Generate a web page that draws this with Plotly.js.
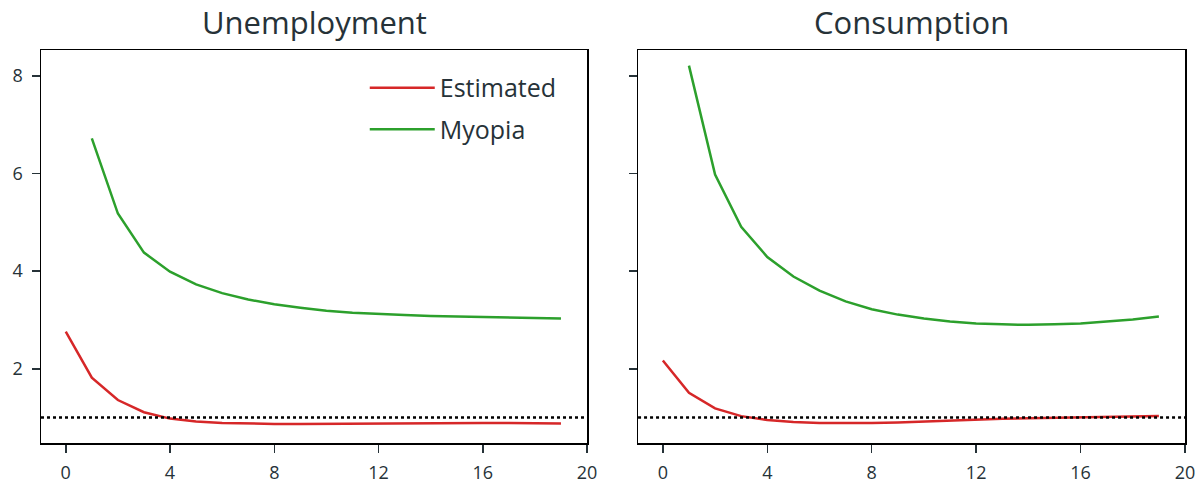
<!DOCTYPE html>
<html>
<head>
<meta charset="utf-8">
<script src="https://cdn.plot.ly/plotly-3.0.1.min.js"></script>
<style>html,body{margin:0;padding:0;background:#fff;}#chart{width:1202px;height:485px;}</style>
</head>
<body>
<div id="chart"></div>
<script>
// ---- data ----
const panelTitles = ["Unemployment", "Consumption"];
const seriesNames = ["Estimated", "Myopia"];
const horizonsEstimated = [0,1,2,3,4,5,6,7,8,9,10,11,12,13,14,15,16,17,18,19];
const horizonsMyopia = [1,2,3,4,5,6,7,8,9,10,11,12,13,14,15,16,17,18,19];
const unempEstimated = [2.76,1.82,1.36,1.11,0.98,0.92,0.89,0.875,0.87,0.87,0.875,0.88,0.885,0.89,0.89,0.89,0.89,0.89,0.885,0.88];
const unempMyopia = [6.72,5.18,4.38,3.99,3.73,3.55,3.42,3.32,3.25,3.19,3.15,3.12,3.10,3.08,3.07,3.06,3.05,3.04,3.03];
const consEstimated = [2.17,1.51,1.19,1.03,0.95,0.91,0.89,0.885,0.89,0.90,0.92,0.94,0.96,0.975,0.985,0.995,1.005,1.015,1.025,1.035];
const consMyopia = [8.21,5.98,4.91,4.29,3.89,3.60,3.38,3.22,3.11,3.03,2.97,2.93,2.91,2.90,2.91,2.93,2.97,3.01,3.07];
const referenceLevel = 1;
const xTicks = [0,4,8,12,16,20];
const yTicks = [2,4,6,8];

// ---- style ----
const RED = "#d62728", GREEN = "#2ca02c", TXT = "#263238";
const FONT = "'Open Sans', 'Noto Sans', sans-serif";

const traces = [
  {x: horizonsEstimated, y: unempEstimated, name: seriesNames[0], xaxis: "x", yaxis: "y", mode: "lines",
   line: {color: RED, width: 2.5}, legendgroup: "a"},
  {x: horizonsMyopia, y: unempMyopia, name: seriesNames[1], xaxis: "x", yaxis: "y", mode: "lines",
   line: {color: GREEN, width: 2.5}, legendgroup: "b"},
  {x: horizonsEstimated, y: consEstimated, name: seriesNames[0], xaxis: "x2", yaxis: "y2", mode: "lines",
   line: {color: RED, width: 2.5}, showlegend: false},
  {x: horizonsMyopia, y: consMyopia, name: seriesNames[1], xaxis: "x2", yaxis: "y2", mode: "lines",
   line: {color: GREEN, width: 2.5}, showlegend: false}
];

const axisCommon = {
  showline: true, mirror: true, linecolor: "#000", linewidth: 1.5,
  ticks: "outside", ticklen: 8, tickwidth: 1.5, tickcolor: TXT,
  ticklabelstandoff: 5,
  showgrid: false, zeroline: false,
  tickfont: {family: FONT, size: 18, color: TXT}
};
const xr = [-0.95, 20];
const yr = [0.48, 8.53];

const layout = {
  width: 1202, height: 485,
  margin: {l: 41, r: 17, t: 50, b: 42},
  paper_bgcolor: "#fff", plot_bgcolor: "#fff",
  font: {family: FONT, color: TXT},
  showlegend: true,
  legend: {x: 0.283, y: 0.962, xanchor: "left", yanchor: "top", bgcolor: "rgba(0,0,0,0)",
           itemwidth: 65,
           font: {family: FONT, size: 25, color: TXT}, tracegroupgap: 6, traceorder: "grouped"},
  xaxis: Object.assign({}, axisCommon, {domain: [0, 0.4773], range: xr, tickvals: xTicks, anchor: "y"}),
  yaxis: Object.assign({}, axisCommon, {domain: [0, 1], range: yr, tickvals: yTicks, anchor: "x"}),
  xaxis2: Object.assign({}, axisCommon, {domain: [0.5219, 1], range: xr, tickvals: xTicks, anchor: "y2"}),
  yaxis2: Object.assign({}, axisCommon, {domain: [0, 1], range: yr, tickvals: yTicks, anchor: "x2", showticklabels: false}),
  shapes: [
    {type: "line", xref: "x domain", yref: "y", x0: 0, x1: 1, y0: referenceLevel, y1: referenceLevel,
     line: {color: "#000", width: 2.5, dash: "dot"}},
    {type: "line", xref: "x2 domain", yref: "y2", x0: 0, x1: 1, y0: referenceLevel, y1: referenceLevel,
     line: {color: "#000", width: 2.5, dash: "dot"}}
  ],
  annotations: [
    {text: panelTitles[0], xref: "paper", yref: "paper", x: 0.4773/2, y: 1, xanchor: "center", yanchor: "bottom",
     yshift: 5, showarrow: false, font: {family: FONT, size: 31, color: TXT}},
    {text: panelTitles[1], xref: "paper", yref: "paper", x: (0.5219 + 1)/2, y: 1, xanchor: "center", yanchor: "bottom",
     yshift: 5, showarrow: false, font: {family: FONT, size: 31, color: TXT}}
  ]
};

Plotly.newPlot("chart", traces, layout, {displayModeBar: false, staticPlot: true});
</script>
</body>
</html>
